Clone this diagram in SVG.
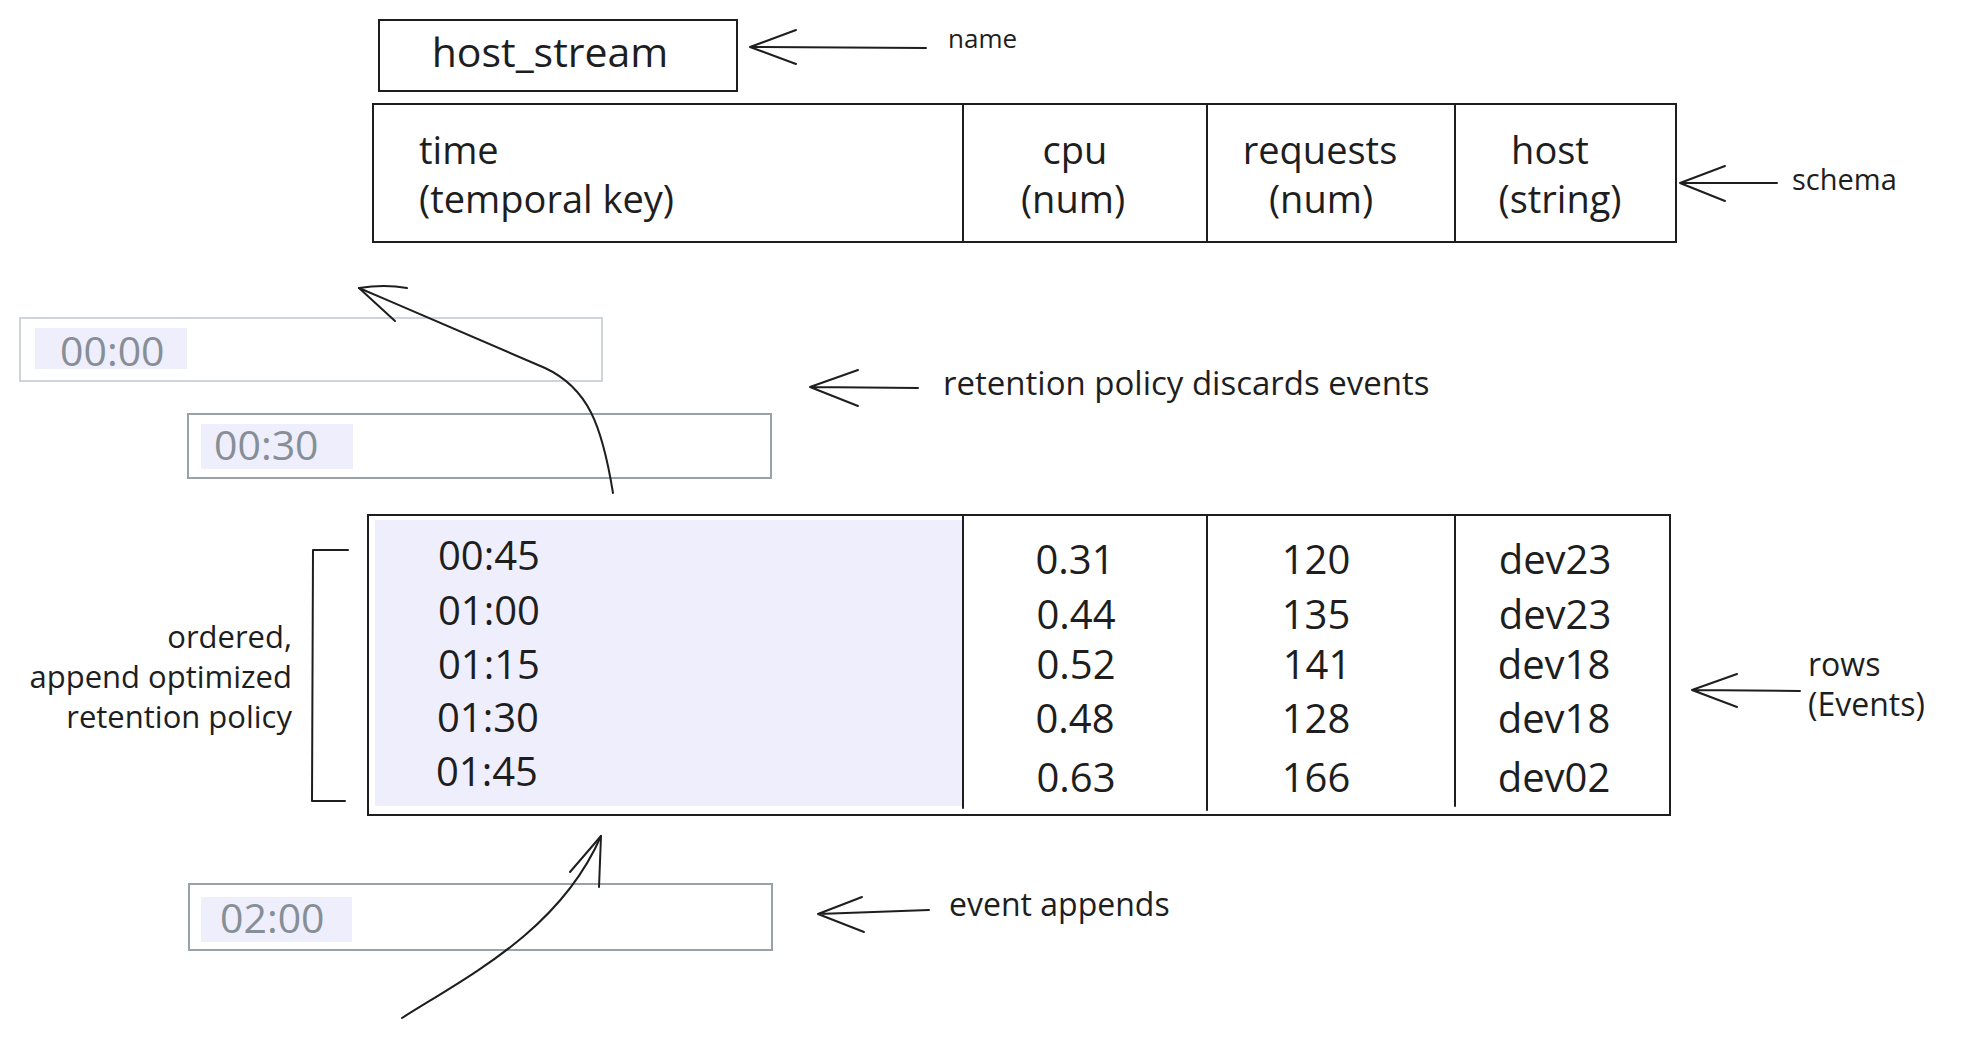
<svg xmlns="http://www.w3.org/2000/svg" width="1963" height="1038" viewBox="0 0 1963 1038">
<defs>
<style>
text{font-family:"Open Sans","Liberation Sans",sans-serif;fill:#1e1e1e}
.box{fill:none;stroke:#1e1e1e;stroke-width:2}
.line{fill:none;stroke:#1e1e1e;stroke-width:2;stroke-linecap:round;stroke-linejoin:round}
.hd{font-size:38px;text-anchor:middle}
.val{font-size:40px;text-anchor:middle}
.tm{font-size:40px}
.note{font-size:31px}
.ghost{fill:#868e96;font-size:41px}
.lav{fill:#efeefc}
</style>
</defs>
<rect width="1963" height="1038" fill="#ffffff"/>

<g id="name-node">
<rect class="box" x="379" y="20" width="358" height="71"/>
<text x="550" y="67" font-size="41" text-anchor="middle">host_stream</text>
</g>

<g id="schema-node">
<rect class="box" x="373" y="104" width="1303" height="138"/>
<line class="line" x1="963" y1="104" x2="963" y2="242"/>
<line class="line" x1="1207" y1="104" x2="1207" y2="242"/>
<line class="line" x1="1455" y1="104" x2="1455" y2="242"/>
<text x="419" y="164" font-size="38">time</text>
<text x="419" y="213" font-size="38">(temporal key)</text>
<text class="hd" x="1075" y="164">cpu</text>
<text class="hd" x="1073" y="213">(num)</text>
<text class="hd" x="1320" y="164">requests</text>
<text class="hd" x="1321" y="213">(num)</text>
<text class="hd" x="1550" y="164">host</text>
<text class="hd" x="1560" y="213">(string)</text>
</g>

<g id="ghost-0000">
<rect x="20" y="318" width="582" height="63" fill="#ffffff" stroke="#ced4da" stroke-width="2"/>
<rect class="lav" x="35" y="328" width="152" height="41"/>
<text class="ghost" x="60" y="366">00:00</text>
</g>

<g id="ghost-0030">
<rect x="188" y="414" width="583" height="64" fill="#ffffff" stroke="#9aa1a8" stroke-width="2"/>
<rect class="lav" x="201" y="424" width="152" height="45"/>
<text class="ghost" x="214" y="460">00:30</text>
</g>

<g id="ghost-0200">
<rect x="189" y="884" width="583" height="66" fill="#ffffff" stroke="#9aa1a8" stroke-width="2"/>
<rect class="lav" x="201" y="897" width="151" height="45"/>
<text class="ghost" x="220" y="933">02:00</text>
</g>

<g id="rows-node">
<rect class="lav" x="375" y="520" width="587" height="286"/>
<rect class="box" x="368" y="515" width="1302" height="300"/>
<line class="line" x1="368" y1="515" x2="1670" y2="515" stroke-width="3.5"/>
<line class="line" x1="963" y1="515" x2="963" y2="808"/>
<line class="line" x1="1207" y1="515" x2="1207" y2="810"/>
<line class="line" x1="1455" y1="515" x2="1455" y2="806"/>
<text class="tm" x="438" y="570">00:45</text>
<text class="tm" x="438" y="625">01:00</text>
<text class="tm" x="438" y="679">01:15</text>
<text class="tm" x="437" y="732">01:30</text>
<text class="tm" x="436" y="786">01:45</text>
<text class="val" x="1075" y="574">0.31</text>
<text class="val" x="1076" y="629">0.44</text>
<text class="val" x="1076" y="679">0.52</text>
<text class="val" x="1075" y="733">0.48</text>
<text class="val" x="1076" y="792">0.63</text>
<text class="val" x="1316" y="574">120</text>
<text class="val" x="1316" y="629">135</text>
<text class="val" x="1317" y="679">141</text>
<text class="val" x="1316" y="733">128</text>
<text class="val" x="1316" y="792">166</text>
<text class="val" x="1555" y="574">dev23</text>
<text class="val" x="1555" y="629">dev23</text>
<text class="val" x="1554" y="679">dev18</text>
<text class="val" x="1554" y="733">dev18</text>
<text class="val" x="1554" y="792">dev02</text>
</g>

<g id="bracket-note">
<path class="line" d="M348,550 L313,550 L312,801 L345,801"/>
<text class="note" x="292" y="648" text-anchor="end">ordered,</text>
<text class="note" x="292" y="688" text-anchor="end">append optimized</text>
<text class="note" x="292" y="728" text-anchor="end">retention policy</text>
</g>

<g id="labels">
<text x="948" y="48" font-size="26">name</text>
<text x="1792" y="190" font-size="29">schema</text>
<text x="943" y="395" font-size="33">retention policy discards events</text>
<text x="949" y="916" font-size="32">event appends</text>
<text x="1808" y="676" font-size="32">rows</text>
<text x="1808" y="716" font-size="32">(Events)</text>
</g>

<g id="connectors">
<path class="line" d="M926,48 L750,47 M796,30 L750,47 L796,64"/>
<path class="line" d="M1777,183 L1680,183 M1725,166 L1680,183 L1725,201"/>
<path class="line" d="M918,388 L810,387 M858,370 L810,387 L858,406" stroke-width="2.5"/>
<path class="line" d="M929,910 L818,914 M862,897 L818,914 L864,932" stroke-width="2.5"/>
<path class="line" d="M1800,691 L1692,690 M1737,674 L1692,690 L1737,707" stroke-width="2.5"/>
<path class="line" d="M613,493 C602,425 588,388 545,368 C480,340 420,314 359,288" stroke-width="2.5"/>
<path class="line" d="M407,288 C390,285 372,286 359,288 L395,321" stroke-width="2.5"/>
<path class="line" d="M402,1018 C470,975 560,930 601,836" stroke-width="2.5"/>
<path class="line" d="M570,872 L601,836 L599,887" stroke-width="2.5"/>
</g>
</svg>
